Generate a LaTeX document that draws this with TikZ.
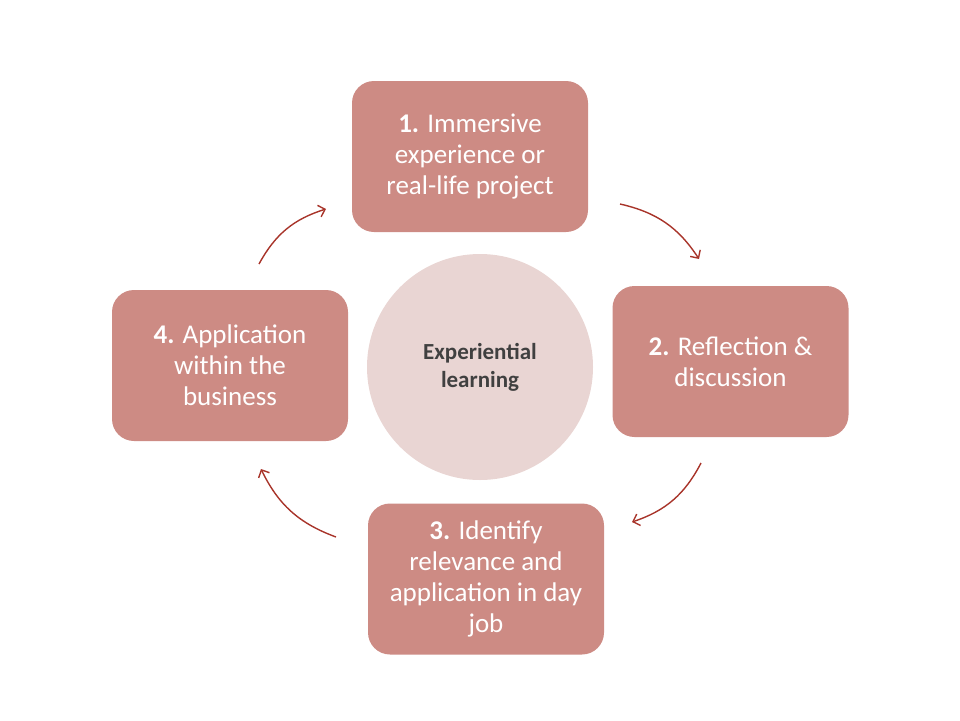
\documentclass[tikz,border=0pt]{standalone}
\usepackage{fontspec}
\setmainfont{Carlito}
\usetikzlibrary{arrows.meta}
\definecolor{stagefill}{RGB}{205,139,132}
\definecolor{corefill}{RGB}{233,213,211}
\definecolor{cyclered}{RGB}{168,52,42}
\definecolor{coretext}{RGB}{64,64,64}

\begin{document}
\begin{tikzpicture}[
    x=1pt,y=-1pt,
    stage/.style={rectangle,rounded corners=22pt,fill=stagefill,text=white,
        minimum width=236pt,minimum height=151pt,align=center,
        font=\fontsize{27}{31}\selectfont,inner sep=0pt},
    core/.style={circle,fill=corefill,text=coretext,minimum size=226pt,
        align=center,font=\fontsize{23}{28}\selectfont\bfseries,inner sep=0pt},
    cycle/.style={draw=cyclered,line width=1.4pt,bend left=22,
        -{Straight Barb[length=6pt,width=12pt,line width=1.4pt]}}
]
    \useasboundingbox (0,0) rectangle (960,720);

    % Centre of the cycle.
    \node[core] (learning) at (480,367) {Experiential\\learning};

    % The four stages, clockwise from the top.
    \node[stage] (immersion) at (470,156.5)
        {\textbf{1.} Immersive\\experience or\\real-life project};
    \node[stage] (reflection) at (730.5,361.5)
        {\textbf{2.} Reflection \&\\discussion};
    \node[stage] (relevance) at (486,579)
        {\textbf{3.} Identify\\relevance and\\application in day\\job};
    \node[stage] (application) at (230,365.5)
        {\textbf{4.} Application\\within the\\business};

    % Free ends of the curved arrows between stages.
    \coordinate (s12) at (620,204);
    \coordinate (e12) at (699,259);
    \coordinate (s23) at (701,463);
    \coordinate (e23) at (632,522);
    \coordinate (s34) at (336,537);
    \coordinate (e34) at (261,469);
    \coordinate (s41) at (259,264);
    \coordinate (e41) at (326,209);

    \foreach \from/\to in {s12/e12,s23/e23,s34/e34,s41/e41}
        \draw[cycle] (\from) to (\to);
\end{tikzpicture}
\end{document}
